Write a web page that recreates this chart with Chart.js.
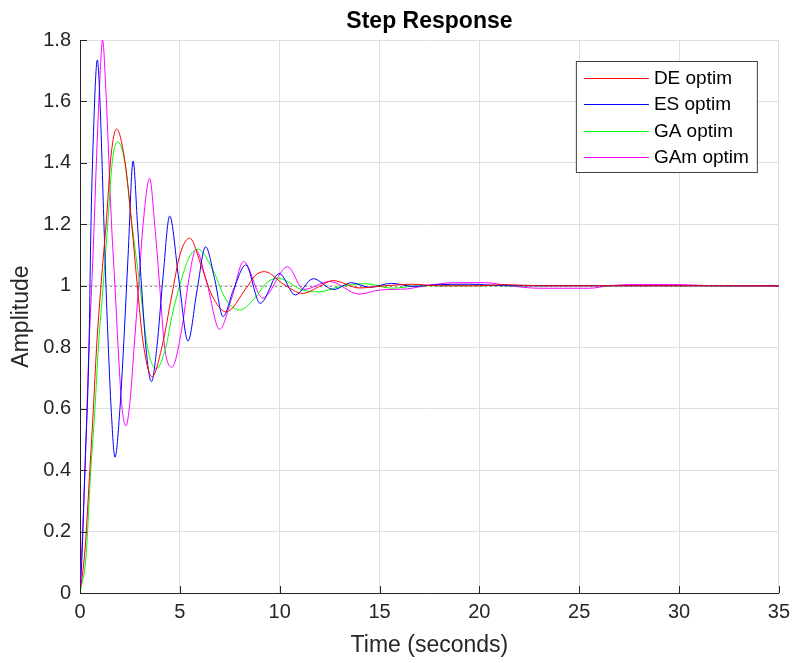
<!DOCTYPE html>
<html>
<head>
<meta charset="utf-8">
<title>Step Response</title>
<script src="https://cdn.jsdelivr.net/npm/chart.js@4.4.1/dist/chart.umd.min.js"></script>
<style>
    body { margin: 0; background: #fff; }
    #wrap { width: 797px; height: 663px; }
</style>
</head>
<body>
<div id="wrap"><canvas id="stepChart" width="797" height="663"></canvas></div>
<script>
    // [time (s), amplitude]
    const deResp = [[0,0],[0.25,0.14],[0.5,0.41],[0.67,0.6],[0.83,0.8],[1.05,1.0],[1.33,1.22],[1.55,1.42],[1.83,1.51],
        [2.26,1.4],[2.59,1.2],[2.87,1.0],[3.15,0.82],[3.61,0.704],[4.1,0.8],[4.6,0.97],[5.0,1.1],[5.49,1.155],
        [6.1,1.06],[6.6,0.97],[7.32,0.915],[8.3,0.99],[8.8,1.035],[9.24,1.046],[10.2,1.005],[11.15,0.975],
        [12.0,0.998],[12.65,1.017],[14.0,0.993],[15.3,1.0],[16.6,1.005],[18.0,1.0],[20.0,1.0],[21.3,1.004],[23.0,1.0],[35,1.0]];
    const esResp = [[0,0],[0.1,0.12],[0.25,0.41],[0.45,0.8],[0.55,1.2],[0.65,1.45],[0.87,1.735],[1.0,1.6],[1.2,1.2],
        [1.3,1.0],[1.42,0.8],[1.56,0.6],[1.75,0.442],[2.0,0.6],[2.22,0.85],[2.41,1.1],[2.66,1.406],[2.88,1.2],
        [3.08,1.0],[3.33,0.78],[3.58,0.688],[3.85,0.8],[4.16,1.03],[4.49,1.227],[4.95,1.02],[5.41,0.82],[5.85,0.98],
        [6.29,1.127],[6.75,1.02],[7.16,0.9],[7.7,0.99],[8.3,1.068],[9.02,0.943],[9.98,1.04],[10.78,0.97],
        [11.68,1.023],[12.7,0.988],[13.6,1.01],[14.5,0.995],[15.6,1.008],[16.7,0.998],[17.7,1.003],[19.5,1.005],
        [21.5,1.0],[35,1.0]];
    const gaResp = [[0,0],[0.3,0.12],[0.55,0.41],[0.75,0.6],[0.92,0.8],[1.16,1.0],[1.41,1.22],[1.61,1.4],[1.88,1.469],
        [2.25,1.4],[2.6,1.2],[3.0,1.0],[3.38,0.8],[3.83,0.731],[4.3,0.8],[4.6,0.9],[4.99,1.0],[5.45,1.09],[5.9,1.119],
        [6.66,1.051],[7.32,0.954],[7.99,0.921],[8.82,0.965],[9.32,1.008],[9.9,1.025],[11.15,0.986],[11.98,0.98],
        [13.0,0.997],[14.3,1.007],[15.6,0.992],[17.0,1.0],[35,1.0]];
    const gamResp = [[0,0],[0.25,0.4],[0.45,0.8],[0.6,1.02],[0.72,1.22],[0.83,1.42],[0.98,1.65],[1.13,1.8],[1.3,1.63],
        [1.45,1.4],[1.58,1.2],[1.75,1.0],[1.91,0.8],[2.08,0.62],[2.3,0.544],[2.5,0.62],[2.71,0.8],[2.96,1.02],
        [3.16,1.2],[3.49,1.35],[3.74,1.2],[3.99,1.0],[4.24,0.8],[4.6,0.735],[5.1,0.86],[5.45,1.02],[5.8,1.117],
        [6.35,1.01],[6.99,0.858],[7.6,0.96],[8.19,1.079],[9.15,0.96],[10.4,1.062],[11.2,0.988],[12.5,1.014],
        [13.98,0.973],[15.0,0.986],[16.4,0.99],[17.3,1.0],[18.8,1.01],[20.3,1.01],[21.5,1.0],[22.97,0.992],
        [25.5,0.992],[26.5,1.0],[27.5,1.004],[30,1.004],[31.6,1.0],[35,0.998]];

    const seriesNames = ['DE optim', 'ES optim', 'GA optim', 'GAm optim'];
    const seriesColors = ['#ff0000', '#0000ff', '#00ff00', '#ff00ff'];
    const xTicks = [0, 5, 10, 15, 20, 25, 30, 35];
    const yTicks = [0, 0.2, 0.4, 0.6, 0.8, 1, 1.2, 1.4, 1.6, 1.8];
    const steadyValue = 1;

    const FONT = "'Liberation Sans', Arial, Helvetica, sans-serif";
    const AXIS_COLOR = '#262626';

    const allResp = [deResp, esResp, gaResp, gamResp];
    const datasets = allResp.map((resp, i) => ({
        label: seriesNames[i],
        data: resp.map(p => ({x: p[0], y: p[1]})),
        borderColor: seriesColors[i],
        backgroundColor: seriesColors[i],
        borderWidth: 1,
        pointRadius: 0,
        fill: false,
        cubicInterpolationMode: 'monotone'
    }));

    // dotted steady-state line, inside ticks, title and legend box
    const axesDecor = {
        id: 'axesDecor',
        beforeDatasetsDraw(chart) {
            const {ctx, chartArea, scales} = chart;
            ctx.save();
            const yRef = Math.round(scales.y.getPixelForValue(steadyValue)) + 0.5;
            ctx.strokeStyle = '#8c8c8c';
            ctx.lineWidth = 1;
            ctx.setLineDash([2, 3]);
            ctx.beginPath();
            ctx.moveTo(chartArea.left, yRef);
            ctx.lineTo(chartArea.right, yRef);
            ctx.stroke();
            ctx.restore();
        },
        afterDatasetsDraw(chart) {
            const {ctx, chartArea, scales} = chart;
            ctx.save();
            ctx.strokeStyle = AXIS_COLOR;
            ctx.lineWidth = 1;
            ctx.beginPath();
            yTicks.forEach(v => {
                const py = Math.round(scales.y.getPixelForValue(v)) + 0.5;
                ctx.moveTo(chartArea.left, py);
                ctx.lineTo(chartArea.left + 7, py);
            });
            xTicks.forEach(v => {
                const px = Math.round(scales.x.getPixelForValue(v)) + 0.5;
                ctx.moveTo(px, chartArea.bottom);
                ctx.lineTo(px, chartArea.bottom - 7);
            });
            ctx.stroke();
            ctx.restore();
        },
        afterDraw(chart) {
            const {ctx, chartArea} = chart;
            ctx.save();
            ctx.fillStyle = '#000';
            ctx.font = 'bold 23px ' + FONT;
            ctx.textAlign = 'center';
            ctx.textBaseline = 'middle';
            ctx.fillText('Step Response', (chartArea.left + chartArea.right) / 2, 21.5);

            const bx = chartArea.right - 203, by = chartArea.top + 21, bw = 181, bh = 111;
            ctx.fillStyle = '#fff';
            ctx.fillRect(bx, by, bw, bh);
            ctx.strokeStyle = '#404040';
            ctx.lineWidth = 1;
            ctx.strokeRect(bx + 0.5, by + 0.5, bw, bh);
            ctx.font = '19px ' + FONT;
            ctx.textAlign = 'left';
            seriesNames.forEach((name, i) => {
                const ly = Math.round(by + 17 + i * 26.3);
                ctx.fillStyle = seriesColors[i];
                ctx.fillRect(bx + 8, ly, 65, 1);
                ctx.fillStyle = '#000';
                ctx.fillText(name, bx + 78, ly + 1);
            });
            ctx.restore();
        }
    };

    const ctx = document.getElementById('stepChart').getContext('2d');
    const stepChart = new Chart(ctx, {
        type: 'line',
        data: { datasets: datasets },
        options: {
            responsive: false,
            animation: false,
            layout: { padding: { top: 40, right: 16, left: 0, bottom: 0 } },
            plugins: {
                legend: { display: false },
                title: { display: false },
                tooltip: { enabled: false }
            },
            scales: {
                x: {
                    type: 'linear',
                    min: 0,
                    max: 35,
                    afterBuildTicks: s => { s.ticks = xTicks.map(v => ({value: v})); },
                    afterFit: s => { s.height = 70; },
                    grid: { color: '#dedede', drawTicks: false },
                    border: { display: true, color: AXIS_COLOR, width: 1 },
                    ticks: {
                        padding: 7,
                        color: AXIS_COLOR,
                        font: { family: FONT, size: 20 },
                        maxRotation: 0,
                        callback: v => String(v)
                    },
                    title: {
                        display: true,
                        text: 'Time (seconds)',
                        color: AXIS_COLOR,
                        font: { family: FONT, size: 23 },
                        padding: { top: 0, bottom: 4 }
                    }
                },
                y: {
                    min: 0,
                    max: 1.8,
                    afterBuildTicks: s => { s.ticks = yTicks.map(v => ({value: v})); },
                    afterFit: s => { s.width = 80; },
                    grid: { color: '#dedede', drawTicks: false },
                    border: { display: true, color: AXIS_COLOR, width: 1 },
                    ticks: {
                        padding: 9,
                        color: AXIS_COLOR,
                        font: { family: FONT, size: 20 },
                        callback: v => String(+Number(v).toFixed(1))
                    },
                    title: {
                        display: true,
                        text: 'Amplitude',
                        color: AXIS_COLOR,
                        font: { family: FONT, size: 23 },
                        padding: { top: 8, bottom: 0 }
                    }
                }
            }
        },
        plugins: [axesDecor]
    });
</script>
</body>
</html>
